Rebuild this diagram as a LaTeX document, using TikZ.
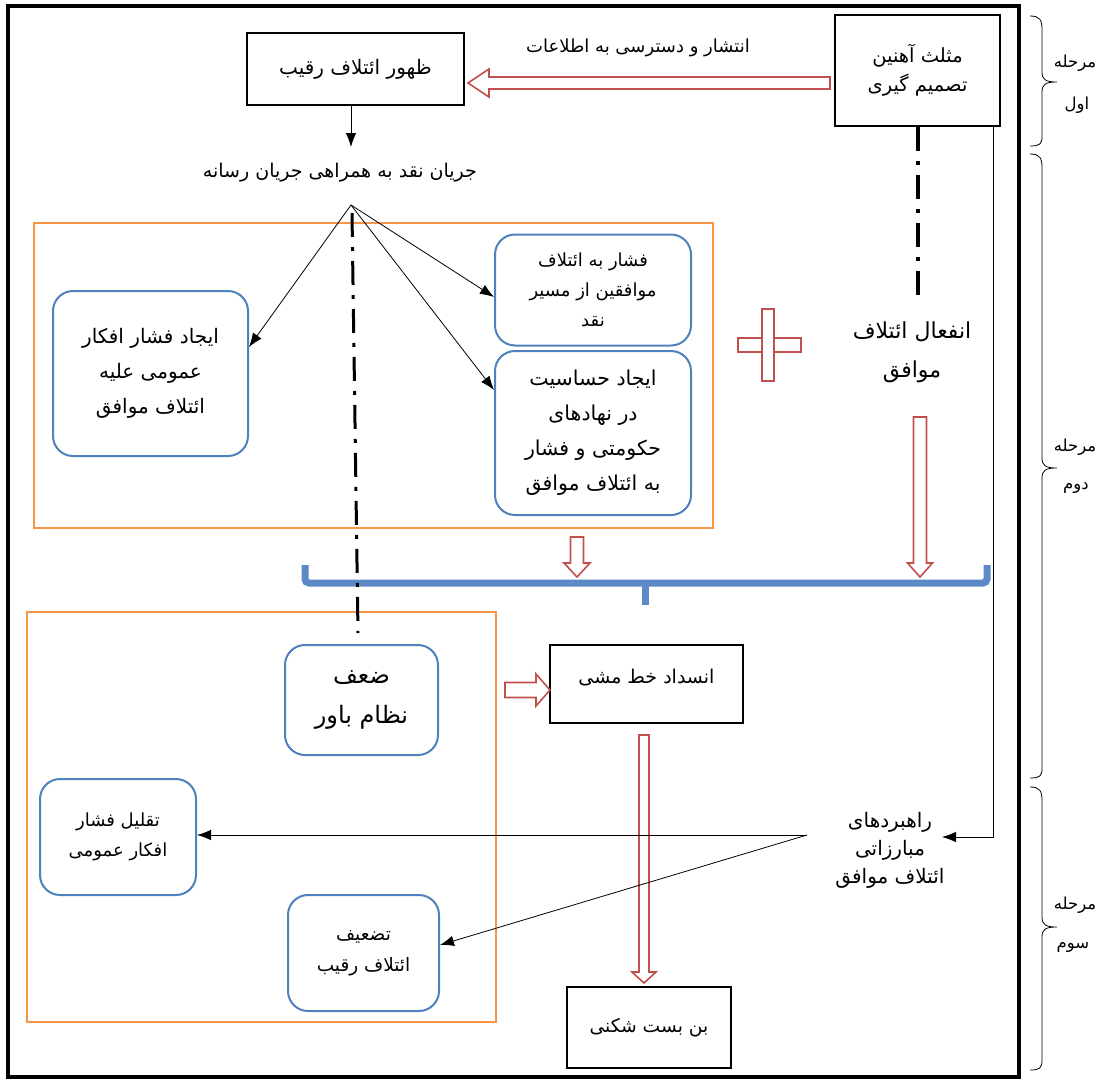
\documentclass[tikz,border=0pt]{standalone}
\usepackage{fontspec}
\usetikzlibrary{arrows.meta}
\newfontfamily\arabicfont[Script=Arabic]{DejaVu Sans}
\TeXXeTstate=1
\newcommand{\fa}[1]{\beginR #1\endR}
\definecolor{ored}{HTML}{C0504D}
\definecolor{oorange}{HTML}{F79646}
\definecolor{oblue}{HTML}{4F81BD}
\definecolor{obrk}{HTML}{5B8AC6}
\tikzset{
  fs/.style 2 args={font=\fontsize{#1}{#2}\selectfont\arabicfont, align=center},
  blackbox/.style={draw=black, line width=2pt, inner sep=0pt},
  bluebox/.style={draw=oblue, line width=2pt, rounded corners=20pt, inner sep=0pt},
  plain/.style={inner sep=0pt},
  arr/.style={-{Latex[length=14pt,width=10.5pt]}, line width=0.8pt},
  hollow/.style={draw=ored, line width=1.6pt, fill=white},
  dashdot/.style={line width=#1, dash pattern=on 24pt off 10pt on 4pt off 10pt},
  brk/.style={line width=0.8pt},
  orangebox/.style={draw=oorange, line width=1.8pt},
}
\begin{document}
\begin{tikzpicture}[x=1pt,y=-1pt]
\useasboundingbox (0,0) rectangle (1104,1082);
\fill[white] (0,0) rectangle (1104,1082);

% orange groups
\draw[orangebox] (34,223) rectangle (713,528);
\draw[orangebox] (27,612) rectangle (496,1022);

% blue bracket
\draw[obrk, line width=7pt, rounded corners=4pt] (305,565) -- (305,583) -- (987,583) -- (987,565);
\draw[obrk, line width=7pt] (645,583) -- (645,605);

% outer frame
\draw[line width=4pt] (8,6) rectangle (1019,1077);

% nodes
\node[blackbox, minimum width=217pt, minimum height=72pt, fs={20}{28}] (topbox) at (355.5,69) {\fa{ظهور ائتلاف رقیب}};
\node[blackbox, minimum width=165pt, minimum height=111pt, fs={19.5}{29}] (iron) at (917.5,70.5) {\fa{مثلث آهنین}\\\fa{تصمیم گیری}};
\node[plain, fs={18}{28}] (spread) at (638,48) {\fa{انتشار و دسترسی به اطلاعات}};
\node[plain, fs={19}{28}] (flow) at (340,173) {\fa{جریان نقد به همراهی جریان رسانه}};
\coordinate (fan1) at (351,205);
\coordinate (flowin) at (351,147);

\node[bluebox, minimum width=195pt, minimum height=165pt, fs={20}{35}] (leftbox) at (150.5,373.5) {\fa{ایجاد فشار افکار}\\\fa{عمومی علیه}\\\fa{ائتلاف موافق}};
\node[bluebox, minimum width=196pt, minimum height=111pt, fs={18}{30}] (smallbox) at (593,290) {\fa{فشار به ائتلاف}\\\fa{موافقین از مسیر}\\\fa{نقد}};
\node[bluebox, minimum width=196pt, minimum height=164pt, fs={20.5}{35}] (bigbox) at (593,433) {\fa{ایجاد حساسیت}\\\fa{در نهادهای}\\\fa{حکومتی و فشار}\\\fa{به ائتلاف موافق}};
\node[plain, fs={22}{39}] (passive) at (912,352) {\fa{انفعال ائتلاف}\\\fa{موافق}};

\node[bluebox, minimum width=153pt, minimum height=110pt, fs={24}{40}] (weak) at (361.5,700) {\fa{ضعف}\\\fa{نظام باور}};
\node[blackbox, minimum width=193pt, minimum height=78pt] (block) at (646.5,684) {};
\node[plain, fs={19}{30}] (blocktext) at ([yshift=6pt]block.center) {\fa{انسداد خط مشی}};
\node[bluebox, minimum width=156pt, minimum height=116pt, fs={18}{30}] (reduce) at (118,837) {\fa{تقلیل فشار}\\\fa{افکار عمومی}};
\node[bluebox, minimum width=151pt, minimum height=116pt, fs={18.5}{31}] (weaken) at (363.5,953) {\fa{تضعیف}\\\fa{ائتلاف رقیب}};
\node[plain, fs={20}{28}] (strategy) at (890,850) {\fa{راهبردهای}\\\fa{مبارزاتی}\\\fa{ائتلاف موافق}};
\coordinate (stratin) at (942,837);
\coordinate (fan2) at (807,835);
\node[blackbox, minimum width=164pt, minimum height=81pt, fs={18.7}{30}] (break) at (649,1027.5) {\fa{بن بست شکنی}};

% stage labels and braces
\draw[brk] (1030,16) .. controls (1040,16) and (1042,20) .. (1042,30) -- (1042,72) .. controls (1042,80) and (1046,82) .. (1057,82) .. controls (1046,82) and (1042,84) .. (1042,92) -- (1042,136) .. controls (1042,144) and (1040,146) .. (1030,146);
\draw[brk] (1030,154) .. controls (1040,154) and (1042,158) .. (1042,168) -- (1042,458) .. controls (1042,466) and (1046,468) .. (1057,468) .. controls (1046,468) and (1042,470) .. (1042,478) -- (1042,768) .. controls (1042,776) and (1040,778) .. (1030,778);
\draw[brk] (1030,787) .. controls (1040,787) and (1042,791) .. (1042,801) -- (1042,917) .. controls (1042,925) and (1046,927) .. (1057,927) .. controls (1046,927) and (1042,929) .. (1042,937) -- (1042,1060) .. controls (1042,1068) and (1040,1070) .. (1030,1070);
\node[plain, fs={16.5}{20}] (s1a) at (1075,63) {\fa{مرحله}};
\node[plain, fs={16.5}{20}] (s1b) at (1077,105) {\fa{اول}};
\node[plain, fs={16.5}{20}] (s2a) at (1075,447) {\fa{مرحله}};
\node[plain, fs={16.5}{20}] (s2b) at (1076,488) {\fa{دوم}};
\node[plain, fs={16.5}{20}] (s3a) at (1075,905) {\fa{مرحله}};
\node[plain, fs={16.5}{20}] (s3b) at (1073,947) {\fa{سوم}};

% hollow red arrows
\draw[hollow] (830,77) -- (489,77) -- (489,69) -- (468,83) -- (489,97) -- (489,89) -- (830,89) -- cycle;
\draw[hollow] (570.5,537) -- (570.5,563) -- (564,563) -- (577,577) -- (590,563) -- (583.5,563) -- (583.5,537) -- cycle;
\draw[hollow] (913.5,417) -- (913.5,563) -- (907.5,563) -- (920,577) -- (932.5,563) -- (926.5,563) -- (926.5,417) -- cycle;
\draw[hollow] (639,735) -- (639,972) -- (632,972) -- (644,983) -- (656,972) -- (649,972) -- (649,735) -- cycle;
\draw[hollow] (505,682.5) -- (536,682.5) -- (536,674) -- (550,690) -- (536,706) -- (536,697.5) -- (505,697.5) -- cycle;
\draw[hollow] (738,338) rectangle (801,352);
\draw[hollow] (762,309) rectangle (774,381);

% dash-dot lines
\coordinate (dd1a) at (352,213);
\coordinate (dd1b) at (358,633);
\draw[dashdot=3pt] (dd1a) -- (dd1b);
\coordinate (dd2b) at (917.5,297);
\draw[dashdot=4pt] (iron.south) -- (dd2b);

% black connectors
\draw[arr] ([xshift=-4.5pt]topbox.south) -- (flowin);
\draw[arr] (fan1) -- ([yshift=26.5pt]leftbox.east);
\draw[arr] (fan1) -- ([yshift=-7pt]smallbox.west);
\draw[arr] (fan1) -- ([yshift=43pt]bigbox.west);
\draw[arr] ([xshift=-8pt]iron.south east) |- (stratin);
\draw[arr] (fan2) -- ([yshift=2pt]reduce.east);
\draw[arr] (fan2) -- ([yshift=8pt]weaken.east);
\end{tikzpicture}
\end{document}
